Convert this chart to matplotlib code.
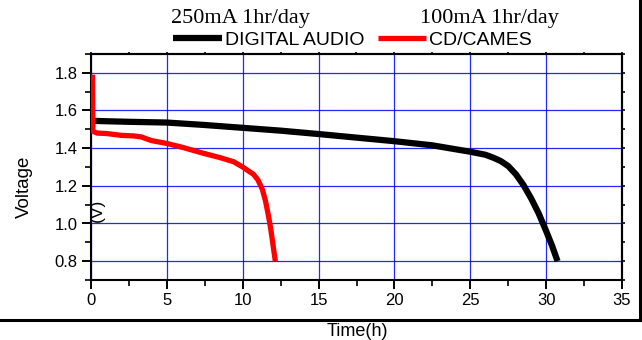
import matplotlib
matplotlib.use("Agg")
import matplotlib.pyplot as plt
from matplotlib.lines import Line2D
from matplotlib.ticker import MultipleLocator, FormatStrFormatter

# ---- data ----
audio_t = [0.2, 1.0, 2.5, 5.0, 7.5, 10.0, 12.5, 15.0, 17.5, 20.0, 22.5, 25.0,
           26.0, 26.5, 27.0, 27.5, 28.0, 28.5, 29.0, 29.5, 30.0, 30.4, 30.75]
audio_v = [1.545, 1.543, 1.540, 1.536, 1.523, 1.508, 1.493, 1.475, 1.456, 1.437,
           1.415, 1.381, 1.365, 1.350, 1.332, 1.305, 1.262, 1.205, 1.135, 1.055,
           0.960, 0.880, 0.800]

games_t = [0.1, 0.12, 0.4, 1.0, 2.0, 2.8, 3.3, 4.0, 5.0, 6.0, 7.4, 8.5, 9.4,
           10.0, 10.3, 10.7, 11.0, 11.3, 11.5, 11.7, 11.85, 12.0, 12.15]
games_v = [1.79, 1.49, 1.48, 1.478, 1.468, 1.465, 1.46, 1.44, 1.425, 1.405,
           1.373, 1.35, 1.328, 1.30, 1.283, 1.262, 1.232, 1.18, 1.12, 1.04,
           0.97, 0.885, 0.80]

series_names = ["DIGITAL AUDIO", "CD/CAMES"]
titles = ["250mA 1hr/day", "100mA 1hr/day"]
x_ticks = [0, 5, 10, 15, 20, 25, 30, 35]
y_ticks = [0.8, 1.0, 1.2, 1.4, 1.6, 1.8]

plt.rcParams['font.family'] = ['Liberation Sans', 'DejaVu Sans']

fig = plt.figure(figsize=(6.42, 3.40), dpi=100)
ax = fig.add_axes([91/642, 1-280/340, (622-91)/642, (280-54)/340])

l1, = ax.plot(audio_t, audio_v, color='black', lw=4.5, solid_capstyle='butt',
              solid_joinstyle='round', zorder=3)
l2, = ax.plot(games_t, games_v, color='#ff0000', lw=3.8, solid_capstyle='butt',
              solid_joinstyle='round', zorder=4)

ax.set_xlim(0, 35)
ax.set_ylim(0.7, 1.9)
ax.set_xticks(x_ticks)
ax.set_yticks(y_ticks)
ax.xaxis.set_minor_locator(MultipleLocator(2.5))
ax.yaxis.set_minor_locator(MultipleLocator(0.1))
ax.yaxis.set_major_formatter(FormatStrFormatter('%.1f'))
ax.grid(True, which='major', color='#0000ff', lw=0.9, alpha=0.85, zorder=1)
ax.set_axisbelow(True)

for sp in ax.spines.values():
    sp.set_linewidth(1.5)
ax.tick_params(which='major', direction='out', length=6.5, width=1.4,
               labelsize=12, pad=3, colors='black')
ax.tick_params(which='minor', direction='out', length=4, width=1.2)

secx = ax.secondary_xaxis('top')
secx.set_xticks(x_ticks)
secx.xaxis.set_minor_locator(MultipleLocator(2.5))
secx.tick_params(which='both', direction='out', length=1.5, width=1.2, labeltop=False)
secx.spines['top'].set_linewidth(1.5)
secy = ax.secondary_yaxis('right')
secy.set_yticks(y_ticks)
secy.yaxis.set_minor_locator(MultipleLocator(0.1))
secy.tick_params(which='both', direction='out', length=2.5, width=1.2, labelright=False)
secy.spines['right'].set_linewidth(1.5)

ax.text(0.45, 1.07, "(V)", rotation=90, fontsize=12.5, ha='center', va='center')

fig.text(0.038, 0.45, "Voltage", rotation=90, fontsize=13.5, ha='center', va='center')
fig.text(357/642, 1-331/340, "Time(h)", fontsize=13, ha='center', va='center')

fig.text(240/642, 1-18/340, titles[0], family='Liberation Serif', fontsize=16,
         ha='center', va='center')
fig.text(489/642, 1-18/340, titles[1], family='Liberation Serif', fontsize=16,
         ha='center', va='center')

fig.legend([l1, l2], series_names, loc='center', bbox_to_anchor=(352.5/642, 1-40/340),
           ncol=2, frameon=False, fontsize=14, handlelength=2.5, handletextpad=0.15,
           columnspacing=0.7, borderpad=0, borderaxespad=0)

# outer frame (right and bottom)
fig.add_artist(Line2D([639.5/642, 639.5/642], [1.0, 1-320/340], transform=fig.transFigure,
                      color='black', lw=2.2))
fig.add_artist(Line2D([0, 639.5/642], [1-320/340, 1-320/340], transform=fig.transFigure,
                      color='black', lw=2.2))

fig.savefig("out.png", dpi=100)
